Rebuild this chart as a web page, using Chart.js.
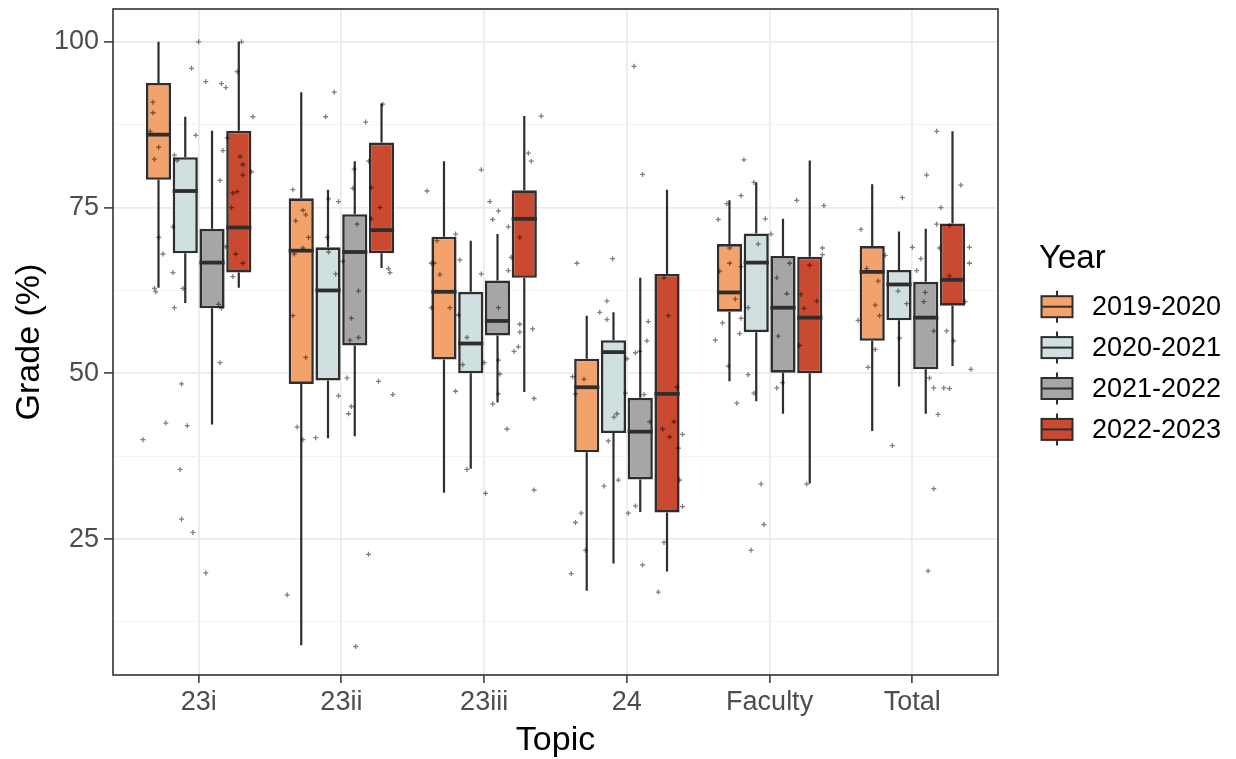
<!DOCTYPE html>
<html><head><meta charset="utf-8">
<script src="https://cdn.jsdelivr.net/npm/chart.js@4.4.0/dist/chart.umd.min.js"></script>
<style>html,body{margin:0;padding:0;background:#fff}canvas{display:block}</style>
</head><body>
<canvas id="c" width="1236" height="759"></canvas>
<script>
const categories = ['23i', '23ii', '23iii', '24', 'Faculty', 'Total'];
const years = ['2019-2020', '2020-2021', '2021-2022', '2022-2023'];
const yearColors = ['#F4A26C', '#D0DFDF', '#A6A6A6', '#C94A30'];

// per category: [lower whisker, Q1, median, Q3, upper whisker]
const box2019 = [[62.9, 79.2, 86.0, 93.8, 100], [9.0, 48.4, 68.5, 76.4, 92.4], [32.0, 52.1, 62.3, 70.6, 82.0], [17.2, 38.1, 47.9, 52.2, 58.7], [48.8, 59.3, 62.2, 69.5, 76.1], [41.3, 54.9, 65.3, 69.2, 78.5]];
const box2020 = [[60.6, 68.1, 77.5, 82.6, 88.7], [40.2, 48.9, 62.5, 69.0, 77.7], [35.6, 50.0, 54.5, 62.3, 70.0], [21.3, 41.0, 53.2, 55.0, 59.2], [45.8, 56.2, 66.7, 71.1, 78.8], [48.0, 58.0, 63.4, 65.6, 71.4]];
const box2021 = [[42.3, 59.8, 66.7, 71.8, 86.6], [40.5, 54.2, 68.3, 74.0, 82.0], [45.6, 55.7, 57.9, 64.0, 71.0], [29.1, 34.0, 41.2, 46.3, 64.4], [43.9, 50.1, 59.9, 67.7, 73.3], [43.9, 50.6, 58.4, 63.8, 71.8]];
const box2022 = [[62.9, 65.2, 72.0, 86.6, 100], [65.9, 68.1, 71.6, 84.8, 90.7], [47.2, 64.4, 73.3, 77.6, 88.8], [20.1, 29.0, 46.9, 65.0, 77.7], [33.4, 50.0, 58.4, 67.6, 82.1], [51.1, 60.2, 64.1, 72.6, 86.5]];
const boxStats = [box2019, box2020, box2021, box2022];

const yMajorTicks = [25, 50, 75, 100];
const yMinorTicks = [12.5, 37.5, 62.5, 87.5];

// jittered individual grades: [jitter offset (category units), grade]
const pts23i = [[-0.30,62.3],[0.00,100],[-0.05,96.0],[0.05,94.0],[0.16,93.7],[0.19,93.1],[0.30,100],[0.27,95.5],[0.38,88.7],[-0.32,90.9],[-0.32,89.3],[-0.34,86.5],[-0.28,84.1],[-0.31,82.3],[-0.17,82.9],[-0.15,82.1],[-0.02,85.9],[0.17,83.6],[0.20,85.5],[0.29,82.7],[0.31,81.5],[0.31,79.9],[0.37,80.4],[0.15,79.1],[0.24,77.2],[0.27,77.4],[0.23,75.0],[-0.18,72.1],[-0.28,70.5],[-0.25,68.0],[0.26,68.0],[0.31,66.6],[0.19,69.1],[-0.31,62.8],[-0.18,65.2],[-0.11,62.8],[-0.17,59.9],[0.14,60.4],[0.16,59.8],[0.24,64.6],[0.15,51.6],[-0.12,48.4],[-0.23,42.5],[-0.08,42.1],[-0.39,40.0],[-0.13,35.5],[-0.12,28.0],[-0.04,26.0],[0.05,19.9]];
const pts23ii = [[-0.34,77.7],[-0.05,92.4],[-0.11,88.7],[-0.09,76.3],[-0.02,75.9],[-0.27,74.6],[-0.25,73.9],[-0.32,73.0],[-0.23,70.5],[-0.27,68.9],[-0.33,68.0],[-0.09,68.3],[-0.10,70.5],[0.17,87.9],[0.09,80.8],[0.08,77.9],[0.11,72.5],[0.01,66.9],[-0.04,65.0],[0.12,62.4],[0.07,58.3],[0.06,55.0],[0.12,55.4],[0.19,82.0],[0.29,90.6],[0.21,78.0],[0.27,75.0],[0.21,73.3],[0.33,65.8],[0.34,65.2],[-0.34,58.7],[-0.25,52.4],[0.04,49.3],[0.26,48.8],[0.36,46.8],[-0.02,46.6],[0.07,45.0],[0.05,43.9],[-0.31,41.9],[-0.27,40.0],[-0.18,40.3],[0.19,22.7],[-0.38,16.6],[0.10,8.8]];
const pts23iii = [[-0.40,77.5],[-0.02,80.7],[0.04,75.9],[0.10,74.5],[0.06,73.2],[0.17,72.1],[-0.20,71.0],[-0.33,70.0],[-0.37,66.6],[-0.35,66.6],[-0.31,64.9],[-0.17,67.1],[-0.02,65.0],[0.19,67.5],[0.17,65.5],[0.10,59.9],[-0.24,59.9],[-0.37,59.9],[0.25,70.5],[0.31,83.2],[0.33,82.0],[0.40,88.8],[0.25,57.4],[0.25,56.2],[0.34,56.7],[0.24,54.0],[-0.12,55.4],[-0.18,58.8],[-0.15,51.3],[0.00,51.6],[0.10,52.0],[0.11,49.9],[0.10,46.9],[0.21,53.3],[-0.20,47.3],[0.06,45.4],[0.35,46.2],[0.16,41.6],[-0.12,35.5],[0.01,31.9],[0.35,32.4]];
const pts24 = [[-0.35,66.6],[-0.10,67.3],[0.05,96.3],[0.11,80.0],[-0.14,60.9],[-0.19,59.2],[-0.14,58.1],[0.15,57.8],[0.14,54.9],[0.26,64.4],[0.29,58.7],[0.09,53.3],[0.06,53.1],[0.00,52.2],[-0.38,49.5],[-0.30,49.1],[-0.36,46.9],[-0.01,47.0],[0.12,46.8],[-0.07,43.9],[-0.09,43.4],[0.16,42.7],[0.25,41.6],[0.30,40.4],[0.33,42.7],[0.35,47.9],[0.39,40.8],[0.37,33.9],[0.39,29.9],[0.36,38.7],[-0.13,39.8],[-0.16,33.0],[-0.06,33.9],[0.06,30.0],[0.01,28.9],[-0.32,28.9],[-0.36,27.5],[-0.29,23.3],[-0.39,19.8],[0.11,21.1],[0.26,24.5],[0.22,17.0]];
const ptsFaculty = [[-0.18,82.2],[-0.11,78.8],[-0.20,76.8],[-0.30,75.6],[-0.36,73.2],[-0.03,73.3],[0.01,71.0],[-0.08,69.5],[0.19,76.1],[0.38,75.3],[-0.28,68.9],[-0.28,66.6],[-0.35,65.4],[-0.20,66.1],[0.14,66.6],[0.05,64.4],[0.12,62.0],[0.37,68.9],[0.37,67.9],[0.28,66.3],[0.22,61.9],[0.33,60.9],[0.24,59.8],[-0.24,61.2],[-0.15,59.9],[-0.33,57.6],[-0.38,55.0],[-0.20,58.3],[-0.21,56.0],[0.06,55.6],[-0.29,51.1],[-0.15,49.8],[-0.23,45.5],[-0.11,47.0],[0.21,54.2],[0.09,48.6],[0.05,47.8],[-0.06,33.3],[-0.04,27.2],[-0.13,23.3],[0.26,33.3]];
const ptsTotal = [[0.17,86.5],[0.10,79.9],[0.34,78.4],[-0.07,76.5],[0.20,75.0],[-0.36,71.7],[0.17,72.5],[0.26,72.3],[0.00,69.0],[0.06,67.3],[0.19,68.9],[0.40,69.0],[0.40,66.6],[-0.32,65.8],[-0.24,63.9],[0.03,65.5],[-0.19,67.8],[-0.10,62.4],[-0.26,60.3],[-0.23,58.7],[-0.04,60.5],[0.08,60.8],[0.09,62.2],[0.26,64.7],[0.37,60.8],[-0.38,58.0],[-0.09,55.3],[0.15,56.4],[0.24,56.4],[0.29,54.9],[-0.26,53.6],[-0.31,50.9],[0.41,50.6],[0.12,49.3],[0.15,47.8],[0.22,47.8],[0.26,47.7],[0.18,43.8],[-0.14,39.1],[0.15,32.6],[0.11,20.2]];
const pointsByCategory = [pts23i, pts23ii, pts23iii, pts24, ptsFaculty, ptsTotal];

const FONT = '"Liberation Sans", Arial, sans-serif';
const INK = '#2E2E2E';

const barDatasets = years.map((yr, k) => ({
  type: 'bar',
  label: yr,
  data: boxStats[k].map((s, i) => ({ x: i + 1, y: [s[1], s[3]] })),
  backgroundColor: yearColors[k],
  borderColor: INK,
  borderWidth: 2.6,
  borderSkipped: false,
  categoryPercentage: 0.75,
  barPercentage: 0.94,
  order: 1
}));

const scatterData = [];
pointsByCategory.forEach((arr, i) => arr.forEach(p => scatterData.push({ x: i + 1 + p[0], y: p[1] })));

const boxPlugin = {
  id: 'boxWhiskers',
  afterDatasetDraw(chart, args) {
    const meta = args.meta;
    if (meta.type !== 'bar') return;
    const stats = boxStats[args.index];
    const ys = chart.scales.y;
    const ctx = chart.ctx;
    ctx.save();
    ctx.strokeStyle = INK;
    ctx.lineCap = 'butt';
    meta.data.forEach((bar, i) => {
      const s = stats[i];
      const x = bar.x, hw = bar.width / 2;
      ctx.lineWidth = 2.2;
      ctx.beginPath();
      ctx.moveTo(x, ys.getPixelForValue(s[4]));
      ctx.lineTo(x, ys.getPixelForValue(s[3]));
      ctx.moveTo(x, ys.getPixelForValue(s[1]));
      ctx.lineTo(x, ys.getPixelForValue(s[0]));
      ctx.stroke();
      ctx.lineWidth = 3.8;
      const ym = ys.getPixelForValue(s[2]);
      ctx.beginPath();
      ctx.moveTo(x - hw, ym);
      ctx.lineTo(x + hw, ym);
      ctx.stroke();
    });
    ctx.restore();
  }
};

const framePlugin = {
  id: 'frameLegend',
  afterDraw(chart) {
    const ctx = chart.ctx, a = chart.chartArea;
    ctx.save();
    ctx.strokeStyle = '#333333';
    ctx.lineWidth = 1.6;
    ctx.strokeRect(a.left, a.top, a.right - a.left, a.bottom - a.top);
    // legend
    const lx = a.right + 42;
    ctx.fillStyle = '#000';
    ctx.font = '33px ' + FONT;
    ctx.textBaseline = 'alphabetic';
    ctx.textAlign = 'left';
    ctx.fillText('Year', lx - 1, 268);
    years.forEach((yr, k) => {
      const cy = 306.7 + k * 40.9;
      const bx = lx + 1.5, bw = 31, cx = bx + bw / 2;
      ctx.strokeStyle = INK;
      ctx.lineWidth = 2;
      ctx.beginPath();
      ctx.moveTo(cx, cy - 16); ctx.lineTo(cx, cy + 16);
      ctx.stroke();
      ctx.fillStyle = yearColors[k];
      ctx.fillRect(bx, cy - 10.5, bw, 21);
      ctx.strokeRect(bx, cy - 10.5, bw, 21);
      ctx.beginPath();
      ctx.moveTo(bx, cy); ctx.lineTo(bx + bw, cy);
      ctx.stroke();
      ctx.fillStyle = '#000';
      ctx.font = '27px ' + FONT;
      ctx.textBaseline = 'middle';
      ctx.fillText(yr, lx + 52, cy + 1);
    });
    ctx.restore();
  }
};

new Chart(document.getElementById('c'), {
  type: 'bar',
  data: {
    datasets: [
      ...barDatasets,
      {
        type: 'scatter',
        label: 'points',
        data: scatterData,
        pointStyle: 'cross',
        pointRadius: 2.5,
        pointBorderWidth: 1.3,
        borderColor: 'rgba(0,0,0,0.5)',
        backgroundColor: 'rgba(0,0,0,0.5)',
        order: 0
      }
    ]
  },
  options: {
    responsive: false,
    animation: false,
    devicePixelRatio: 1,
    layout: { padding: { left: 0, top: 9, right: 238, bottom: 0 } },
    plugins: { legend: { display: false }, tooltip: { enabled: false } },
    scales: {
      x: {
        type: 'linear',
        min: 0.4,
        max: 6.6,
        offset: false,
        afterBuildTicks: s => { s.ticks = categories.map((c, i) => ({ value: i + 1 })); },
        afterFit: s => { s.height = 84; s.paddingLeft = 0; s.paddingRight = 0; },
        ticks: {
          callback: v => categories[Math.round(v) - 1] || '',
          font: { family: FONT, size: 27 },
          color: '#4D4D4D',
          padding: 3,
          maxRotation: 0,
          autoSkip: false
        },
        grid: { color: '#EBEBEB', lineWidth: 1.8, tickColor: '#333333', tickLength: 8, tickWidth: 1.5, offset: false },
        border: { display: false },
        title: { display: true, text: 'Topic', font: { family: FONT, size: 34 }, color: '#000', padding: { top: 0, bottom: -2 } }
      },
      y: {
        type: 'linear',
        min: 4.5,
        max: 104.95,
        afterBuildTicks: s => { s.ticks = [...yMinorTicks, ...yMajorTicks].sort((a, b) => a - b).map(v => ({ value: v })); },
        afterFit: s => { s.width = 113; s.paddingTop = 0; s.paddingBottom = 0; },
        ticks: {
          callback: v => yMajorTicks.includes(v) ? String(v) : '',
          font: { family: FONT, size: 27 },
          color: '#4D4D4D',
          padding: 5,
          autoSkip: false
        },
        grid: {
          color: c => yMajorTicks.includes(c.tick && c.tick.value) ? '#EBEBEB' : '#F3F3F3',
          lineWidth: c => yMajorTicks.includes(c.tick && c.tick.value) ? 1.8 : 1,
          tickColor: c => yMajorTicks.includes(c.tick && c.tick.value) ? '#333333' : 'rgba(0,0,0,0)',
          tickLength: 9,
          tickWidth: 1.5
        },
        border: { display: false },
        title: { display: true, text: 'Grade (%)', font: { family: FONT, size: 34 }, color: '#000', padding: { top: 9, bottom: 0 } }
      }
    }
  },
  plugins: [boxPlugin, framePlugin]
});
</script>
</body></html>
